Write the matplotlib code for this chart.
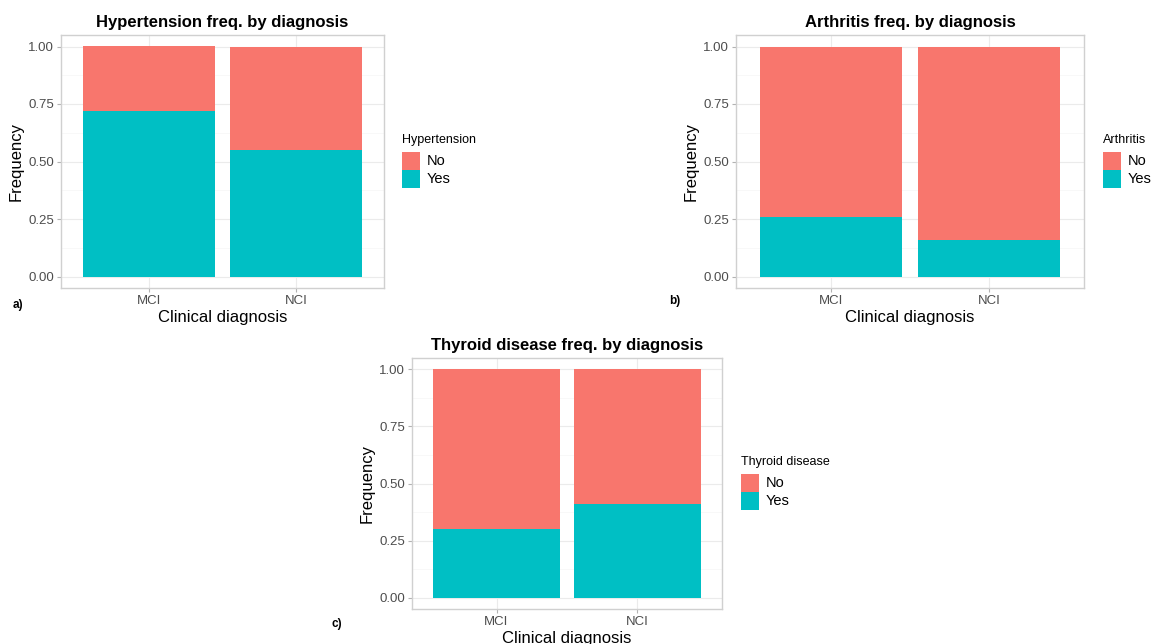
import matplotlib.pyplot as plt
from matplotlib.patches import Rectangle

plt.rcParams['font.family'] = ['Liberation Sans', 'DejaVu Sans']

# data (proportion "Yes" per diagnosis group)
diagnosis = ["MCI", "NCI"]
hypertension_yes = [0.72, 0.55]
arthritis_yes = [0.26, 0.16]
thyroid_yes = [0.30, 0.41]
yticks = [0.00, 0.25, 0.50, 0.75, 1.00]
legend_labels = ["No", "Yes"]

RED = "#F8766D"
TEAL = "#00BFC4"
W, H = 1155, 644

fig = plt.figure(figsize=(W / 100, H / 100), dpi=100)


def px_axes(left, top, right, bottom):
    return fig.add_axes([left / W, 1 - bottom / H, (right - left) / W, (bottom - top) / H])


def draw_legend(title, x, y):
    # ggplot-like legend: title, then square keys stacked without gaps
    key = 18
    fig.text(x / W, 1 - y / H, title, fontsize=9, ha="left", va="center")
    for i, (lab, col) in enumerate(zip(legend_labels, [RED, TEAL])):
        top = y + 12 + i * key
        fig.add_artist(Rectangle((x / W, 1 - (top + key) / H), key / W, key / H,
                                 transform=fig.transFigure, color=col, lw=0))
        fig.text((x + key + 7) / W, 1 - (top + key / 2) / H, lab, fontsize=10.5,
                 ha="left", va="center")


def draw_panel(ax, yes, title, legend_title, leg_xy, tag, tag_xy):
    x = list(range(1, len(diagnosis) + 1))
    no = [1 - v for v in yes]
    ax.bar(x, yes, width=0.9, color=TEAL, zorder=2)
    ax.bar(x, no, bottom=yes, width=0.9, color=RED, zorder=2)
    ax.set_xlim(0.4, len(diagnosis) + 0.6)
    ax.set_ylim(-0.05, 1.05)
    ax.set_xticks(x)
    ax.set_xticklabels(diagnosis)
    ax.set_yticks(yticks)
    ax.set_yticklabels([f"{v:.2f}" for v in yticks])
    ax.set_yticks([0.125, 0.375, 0.625, 0.875], minor=True)
    ax.grid(which="major", color="#EBEBEB", lw=0.8, zorder=0)
    ax.grid(which="minor", axis="y", color="#F5F5F5", lw=0.5, zorder=0)
    for s in ax.spines.values():
        s.set_color("#D0D0D0")
        s.set_linewidth(1.0)
    ax.tick_params(which="major", colors="#B3B3B3", labelcolor="#4D4D4D",
                   labelsize=9.5, length=3, width=0.8, pad=2)
    ax.tick_params(which="minor", length=0)
    ax.set_title(title, fontsize=12, fontweight="bold", pad=6)
    ax.set_xlabel("Clinical diagnosis", fontsize=12, labelpad=2)
    ax.set_ylabel("Frequency", fontsize=12, labelpad=3)
    draw_legend(legend_title, *leg_xy)
    fig.text(tag_xy[0] / W, 1 - tag_xy[1] / H, tag, fontsize=8.5, fontweight="bold",
             ha="left", va="center")


ax1 = px_axes(61, 35, 384, 288)
draw_panel(ax1, hypertension_yes, "Hypertension freq. by diagnosis", "Hypertension",
           (402, 140), "a)", (13, 305))

ax2 = px_axes(736, 35, 1084, 288)
draw_panel(ax2, arthritis_yes, "Arthritis freq. by diagnosis", "Arthritis",
           (1103, 140), "b)", (669, 301))

ax3 = px_axes(412, 358, 722, 609)
draw_panel(ax3, thyroid_yes, "Thyroid disease freq. by diagnosis", "Thyroid disease",
           (741, 462), "c)", (332, 624))

fig.savefig("out.png", dpi=100)
